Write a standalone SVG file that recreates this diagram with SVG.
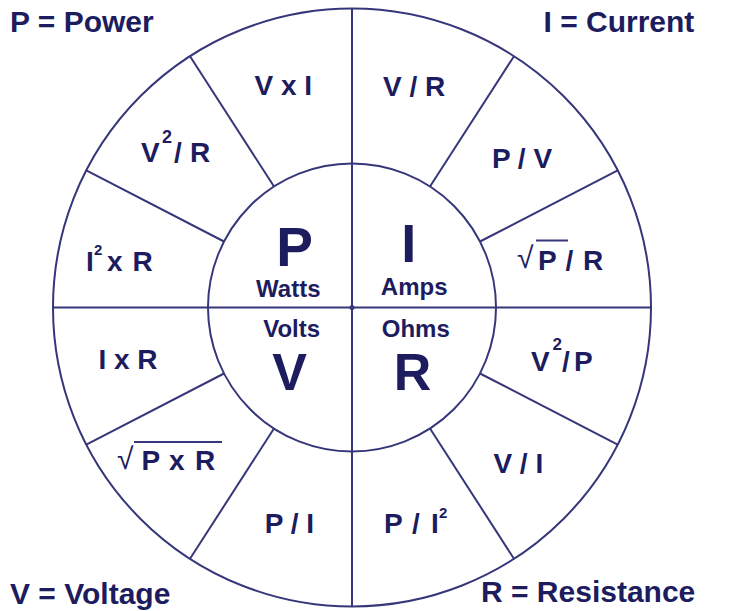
<svg xmlns="http://www.w3.org/2000/svg" width="736" height="611" viewBox="0 0 736 611">
<style>
.ln{stroke:#36367a;stroke-width:2;fill:none}
text{font-family:"Liberation Sans",Arial,sans-serif;font-weight:bold;fill:#1c1c5e}
.cap{font-size:30px}
.f{font-size:28px}
.big{text-anchor:middle}
.unit{font-size:24px;text-anchor:middle}
.mid{text-anchor:middle}
.rad{font-weight:normal;font-size:30px}
</style>
<rect width="736" height="611" fill="#ffffff"/>
<g id="connectors">
<circle class="ln" cx="352" cy="307.5" r="299"/>
<circle class="ln" cx="352" cy="307.5" r="144"/>
<line class="ln" x1="352" y1="8.5" x2="352" y2="606.5"/>
<line class="ln" x1="53" y1="307.5" x2="651" y2="307.5"/>
<line class="ln" x1="274" y1="186.5" x2="190" y2="56.2"/>
<line class="ln" x1="224" y1="241.5" x2="86.3" y2="170.4"/>
<line class="ln" x1="224" y1="373.5" x2="86.3" y2="444.6"/>
<line class="ln" x1="274" y1="428.5" x2="190" y2="558.8"/>
<line class="ln" x1="430" y1="186.5" x2="514" y2="56.2"/>
<line class="ln" x1="480" y1="241.5" x2="617.7" y2="170.4"/>
<line class="ln" x1="480" y1="373.5" x2="617.7" y2="444.6"/>
<line class="ln" x1="430" y1="428.5" x2="514" y2="558.8"/>
<circle cx="352" cy="307.5" r="2.5" fill="#36367a"/>
</g>
<g id="legend-p"><text class="cap" x="10" y="31.5">P = Power</text></g>
<g id="legend-i"><text class="cap" x="543.5" y="31.5">I = Current</text></g>
<g id="legend-v"><text class="cap" x="10" y="603.5">V = Voltage</text></g>
<g id="legend-r"><text class="cap" x="481" y="602">R = Resistance</text></g>
<g id="node-p"><text class="big" x="294.5" y="266" font-size="55">P</text><text class="unit" x="288.3" y="296.7">Watts</text></g>
<g id="node-i"><text class="big" x="408.7" y="262" font-size="54">I</text><text class="unit" x="414.2" y="295">Amps</text></g>
<g id="node-v"><text class="unit" x="291.7" y="336.7">Volts</text><text class="big" x="289.7" y="390" font-size="52">V</text></g>
<g id="node-r"><text class="unit" x="415.8" y="337.3">Ohms</text><text class="big" x="412.5" y="390" font-size="52">R</text></g>
<g id="p-vxi"><text class="f mid" x="283.3" y="95">V x I</text></g>
<g id="p-v2r"><text class="f" x="141" y="161.7">V</text><text x="162" y="143" font-size="18">2</text><text class="f" x="174" y="161.7">/</text><text class="f" x="190" y="161.7">R</text></g>
<g id="p-i2r"><text class="f" x="86" y="270.7">I</text><text x="94" y="255" font-size="15">2</text><text class="f" x="107" y="270.7">x</text><text class="f" x="132.5" y="270.7">R</text></g>
<g id="i-vr"><text class="f mid" x="414.2" y="96">V / R</text></g>
<g id="i-pv"><text class="f mid" x="522" y="168.3">P / V</text></g>
<g id="i-sqrtpr"><text class="rad" x="517" y="268">√</text><line class="ln" x1="536" y1="240.5" x2="568" y2="240.5"/><text class="f" x="538" y="270">P</text><text class="f" x="565.5" y="270">/</text><text class="f" x="583" y="270">R</text></g>
<g id="v-ixr"><text class="f mid" x="128" y="369.3">I x R</text></g>
<g id="v-sqrtpxr"><text class="rad" x="117" y="469">√</text><line class="ln" x1="134" y1="442" x2="222" y2="442"/><text class="f" x="141.5" y="470">P</text><text class="f" x="169" y="470">x</text><text class="f" x="195" y="470">R</text></g>
<g id="v-pi"><text class="f mid" x="289.5" y="533.3">P / I</text></g>
<g id="r-v2p"><text class="f" x="531" y="370.7">V</text><text x="552.5" y="350" font-size="17">2</text><text class="f" x="562" y="370.7">/</text><text class="f" x="574" y="370.7">P</text></g>
<g id="r-vi"><text class="f mid" x="518.3" y="473.3">V / I</text></g>
<g id="r-pi2"><text class="f" x="384" y="533.3">P</text><text class="f" x="412" y="533.3">/</text><text class="f" x="431" y="533.3">I</text><text x="439" y="518" font-size="15">2</text></g>
</svg>
